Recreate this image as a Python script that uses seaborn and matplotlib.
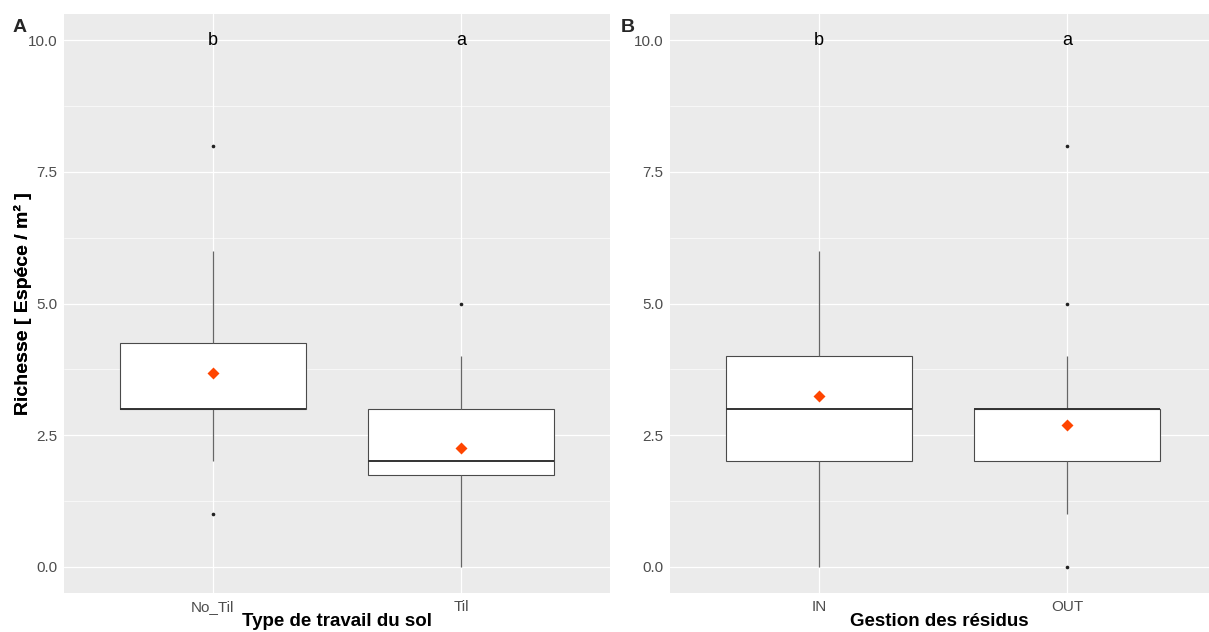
import numpy as np
import pandas as pd
import matplotlib
matplotlib.use("Agg")
import matplotlib.pyplot as plt
import seaborn as sns

# Species richness per quadrat, grouped by soil tillage and by residue management
tillage_levels = ["No_Til", "Til"]
no_til_values = [1, 2, 3, 3, 3, 3, 3, 3, 3, 3, 4, 4, 5, 5, 6, 8]
til_values = [0, 1, 1, 1, 2, 2, 2, 2, 2, 2, 3, 3, 3, 3, 4, 5]
tillage_letters = ["b", "a"]

residue_levels = ["IN", "OUT"]
in_values = [0, 2, 2, 2, 2, 2, 3, 3, 3, 3, 4, 4, 4, 6, 6, 6]
out_values = [0, 1, 1, 1, 2, 2, 2, 2, 2, 3, 3, 3, 3, 3, 3, 3, 4, 5, 8]
residue_letters = ["b", "a"]

y_ticks = [0.0, 2.5, 5.0, 7.5, 10.0]
y_tick_labels = ["0.0", "2.5", "5.0", "7.5", "10.0"]
letter_height = 10.0

df_till = pd.DataFrame({
    "group": ["No_Til"] * len(no_til_values) + ["Til"] * len(til_values),
    "richesse": no_til_values + til_values,
})
df_res = pd.DataFrame({
    "group": ["IN"] * len(in_values) + ["OUT"] * len(out_values),
    "richesse": in_values + out_values,
})

sns.set_style("white")
plt.rcParams["font.family"] = ["Liberation Sans", "DejaVu Sans"]

W, H = 1209, 632
fig = plt.figure(figsize=(W / 100, H / 100), dpi=100)

unit = 546 / 2.2
panels = [
    dict(df=df_till, order=tillage_levels, letters=tillage_letters,
         xlabel="Type de travail du sol", tag="A", left=64, right=610, tagx=20),
    dict(df=df_res, order=residue_levels, letters=residue_letters,
         xlabel="Gestion des résidus", tag="B", left=670, right=1209, tagx=628),
]
top, bottom = 14, 593

for p in panels:
    ax = fig.add_axes([p["left"] / W, 1 - bottom / H,
                       (p["right"] - p["left"]) / W, (bottom - top) / H])
    ax.set_facecolor("#EBEBEB")
    ax.set_axisbelow(True)

    sns.boxplot(data=p["df"], x="group", y="richesse", order=p["order"],
                width=0.75, color="white", linecolor="#4a4a4a", linewidth=0.8,
                fliersize=1.6, showcaps=False,
                flierprops=dict(marker="o", markerfacecolor="#222222",
                                markeredgecolor="#222222"),
                medianprops=dict(color="#333333", linewidth=1.4),
                whiskerprops=dict(color="#666666", linewidth=0.9),
                ax=ax)
    sns.pointplot(data=p["df"], x="group", y="richesse", order=p["order"],
                  estimator="mean", errorbar=None, markers="D",
                  linestyles="none", color="#FF4500", markersize=3.6,
                  ax=ax)
    for coll in ax.collections:
        coll.set_zorder(6)
    for line in ax.lines[-3:]:
        line.set_zorder(6)

    for i, letter in enumerate(p["letters"]):
        ax.text(i, letter_height, letter, ha="center", va="center",
                fontsize=13, color="black")

    ax.set_xlim(-0.6, -0.6 + (p["right"] - p["left"]) / unit)
    ax.set_ylim(-0.5, 10.5)
    ax.set_yticks(y_ticks)
    ax.set_yticklabels(y_tick_labels)
    ax.set_yticks([1.25, 3.75, 6.25, 8.75], minor=True)
    ax.grid(True, which="major", color="white", linewidth=0.9)
    ax.grid(True, which="minor", axis="y", color="white", linewidth=0.45)
    for s in ax.spines.values():
        s.set_visible(False)
    ax.tick_params(axis="both", which="major", length=3, width=0.8,
                   color="#333333", labelsize=11, labelcolor="#4D4D4D", pad=2)
    ax.tick_params(axis="y", which="minor", length=0)

    ax.set_xlabel(p["xlabel"], fontsize=13.5, fontweight="bold", color="black")
    ax.set_ylabel("Richesse [ Espéce / m² ]", fontsize=14,
                  fontweight="bold", color="black")
    ax.xaxis.label.set_va("center")
    ax.yaxis.label.set_va("center")
    ax.xaxis.set_label_coords(0.5, (bottom - 621) / (bottom - top))
    ax.yaxis.set_label_coords((23 - p["left"]) / (p["right"] - p["left"]), 0.5)

    fig.text(p["tagx"] / W, 1 - 27 / H, p["tag"], fontsize=14,
             fontweight="bold", ha="center", va="center")

fig.savefig("out.png", dpi=100, facecolor="white")
